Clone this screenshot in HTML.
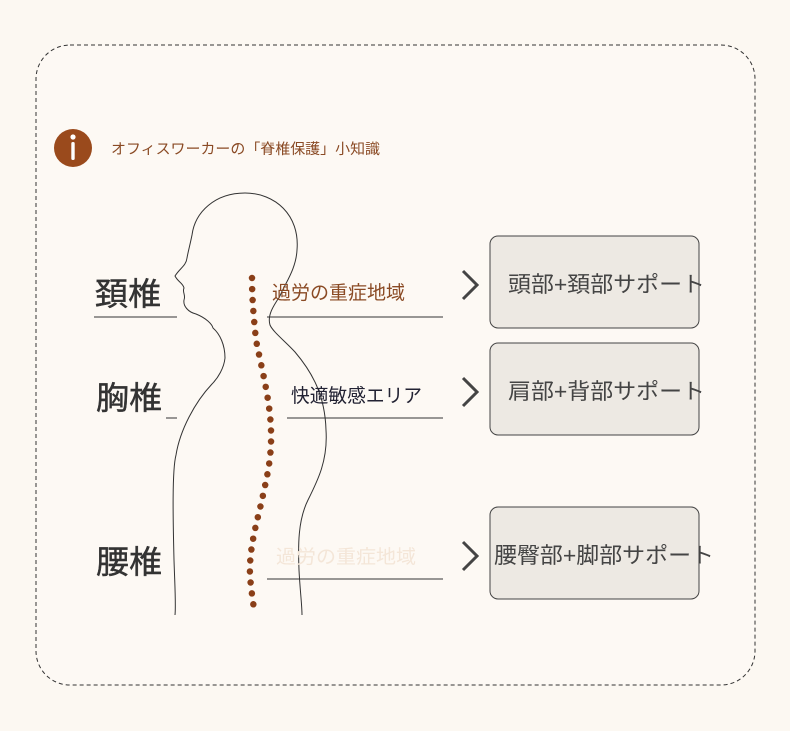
<!DOCTYPE html>
<html><head><meta charset="utf-8">
<style>
html,body{margin:0;padding:0;background:#fcf8f2;}
svg{display:block;}
text{font-family:"Liberation Sans","Noto Sans CJK JP",sans-serif;}
</style></head>
<body>
<svg width="790" height="731" viewBox="0 0 790 731" xmlns="http://www.w3.org/2000/svg">
<rect x="0" y="0" width="790" height="731" fill="#fcf8f2"/>
<rect x="36" y="45" width="719" height="640" rx="34" fill="#fdf9f4" stroke="#333" stroke-width="1" stroke-dasharray="4,3"/>
<circle cx="73" cy="148" r="19" fill="#9a4a1c"/>
<circle cx="73" cy="137" r="2.6" fill="#fff"/>
<rect x="71.3" y="142" width="3.4" height="18" rx="1.5" fill="#fff"/>
<text x="111" y="154" font-size="14.5" fill="#8a4a24" textLength="269" lengthAdjust="spacingAndGlyphs">オフィスワーカーの「脊椎保護」小知識</text>
<path d="M297,250 C300,215 275,193 245,193 C215,193 195,212 192,235 C190,245 188,252 187,258 C186,266 180,268 175,276 C178,282 183,283 184,288 C182,292 186,295 184,300 C183,306 188,312 196,314 C206,318 212,324 213,328 C220,334 225,345 225,358 C224,368 218,378 212,384 C195,402 180,430 176,455 C172,470 173,520 174,560 C175,590 176,605 175,615"
 fill="none" stroke="#333" stroke-width="1"/>
<path d="M297,250 C296,270 284,285 280,296 C274,305 267,315 270,325 C273,332 286,342 295,352 C312,372 325,395 326,430 C328,460 318,480 308,500 C298,520 298,545 299,570 C300,590 302,605 302,615"
 fill="none" stroke="#333" stroke-width="1"/>
<path d="M252,278 C252,300 254,320 256,340 C262,370 270,400 271,430 C272,460 266,480 262,500 C256,525 249,550 250,575 C251,590 253,600 254,610"
 fill="none" stroke="#8a3f18" stroke-width="6.5" stroke-linecap="round" stroke-dasharray="0,11"/>
<text x="95" y="305" font-size="32" fill="#333" stroke="#333" stroke-width="0.4" textLength="66" lengthAdjust="spacingAndGlyphs">頚椎</text>
<line x1="94" y1="317" x2="177" y2="317" stroke="#333" stroke-width="1"/>
<text x="272" y="299" font-size="19" fill="#8a4a24" textLength="133" lengthAdjust="spacingAndGlyphs">過労の重症地域</text>
<line x1="267" y1="317" x2="443" y2="317" stroke="#333" stroke-width="1"/>

<text x="96" y="409" font-size="32" fill="#333" stroke="#333" stroke-width="0.4" textLength="66" lengthAdjust="spacingAndGlyphs">胸椎</text>
<line x1="166" y1="418" x2="177" y2="418" stroke="#333" stroke-width="1"/>
<text x="291" y="402" font-size="19" fill="#223" textLength="131" lengthAdjust="spacingAndGlyphs">快適敏感エリア</text>
<line x1="287" y1="418" x2="443" y2="418" stroke="#333" stroke-width="1"/>

<text x="96" y="573" font-size="32" fill="#333" stroke="#333" stroke-width="0.4" textLength="66" lengthAdjust="spacingAndGlyphs">腰椎</text>
<text x="276" y="563" font-size="19" fill="#f4e6d8" textLength="140" lengthAdjust="spacingAndGlyphs">過労の重症地域</text>
<line x1="267" y1="579" x2="443" y2="579" stroke="#333" stroke-width="1"/>

<g fill="none" stroke="#444" stroke-width="3">
<polyline points="463,271 477,285 463,299"/>
<polyline points="463,378 477,392 463,406"/>
<polyline points="463,542 477,556 463,570"/>
</g>
<g fill="#ede9e3" stroke="#444" stroke-width="1">
<rect x="490" y="236" width="209" height="92" rx="8"/>
<rect x="490" y="343" width="209" height="92" rx="8"/>
<rect x="490" y="507" width="209" height="92" rx="8"/>
</g>
<text x="508" y="292" font-size="22" fill="#444" textLength="197" lengthAdjust="spacingAndGlyphs">頭部+頚部サポート</text>
<text x="508" y="399" font-size="22" fill="#444" textLength="197" lengthAdjust="spacingAndGlyphs">肩部+背部サポート</text>
<text x="494" y="563" font-size="22" fill="#444" textLength="220" lengthAdjust="spacingAndGlyphs">腰臀部+脚部サポート</text>
</svg>
</body></html>
